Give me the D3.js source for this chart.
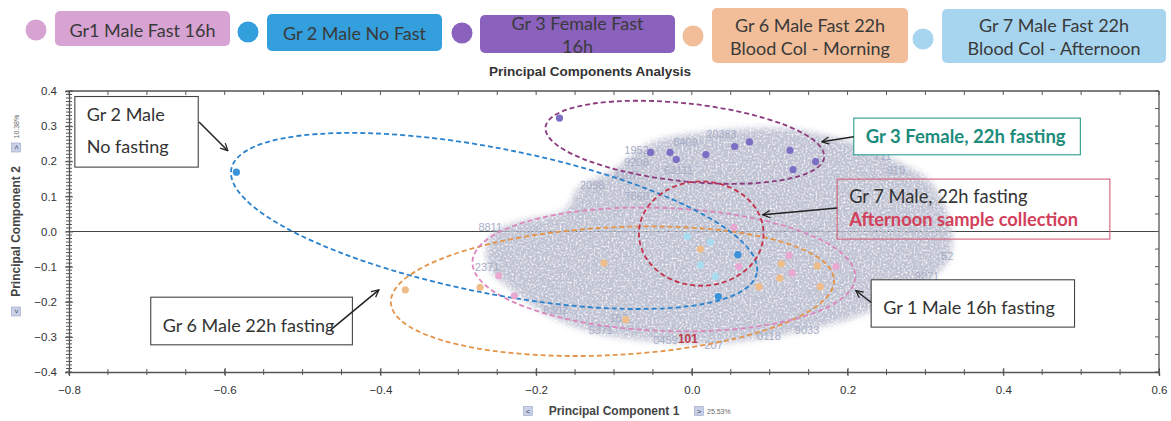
<!DOCTYPE html>
<html>
<head>
<meta charset="utf-8">
<script src="https://cdn.jsdelivr.net/npm/d3@7"></script>
<style>
body { margin: 0; background: #fff; }
svg { display: block; font-family: "Liberation Sans", Arial, sans-serif; }
.note { font-family: Lato, "Open Sans", sans-serif; }
</style>
</head>
<body>
<svg id="chart" width="1171" height="421"></svg>
<script>
// ---- data ----
const groupLabels = [
  ["Gr1 Male Fast 16h"],
  ["Gr 2 Male No Fast"],
  ["Gr 3 Female Fast", "16h"],
  ["Gr 6 Male Fast 22h", "Blood Col - Morning"],
  ["Gr 7 Male Fast 22h", "Blood Col - Afternoon"]
];

// PC1, PC2 of each sample
const gr1Points = [[-0.248, -0.126], [-0.228, -0.183], [0.060, -0.100], [0.125, -0.068], [0.129, -0.118], [0.185, -0.100], [0.054, 0.012]];
const gr2Points = [[-0.585, 0.169], [0.059, -0.066], [0.034, -0.185]];
const gr3Points = [[-0.170, 0.323], [-0.053, 0.225], [-0.028, 0.225], [-0.020, 0.205], [0.018, 0.219],
                   [0.055, 0.242], [0.074, 0.255], [0.126, 0.231], [0.159, 0.199], [0.130, 0.176]];
const gr6Points = [[-0.368, -0.166], [-0.272, -0.159], [-0.113, -0.090], [0.011, -0.050], [-0.085, -0.251],
                   [0.086, -0.157], [0.113, -0.133], [0.115, -0.092], [0.161, -0.098], [0.165, -0.157]];
const gr7Points = [[0.011, -0.095], [0.024, -0.030], [-0.006, -0.014], [0.030, -0.128]];

// confidence ellipses: centre x, centre y, semi-axes (PC1 units), tilt in degrees
const gr1Ellipse = [-0.036, -0.108, 0.246, 0.079, 2.3];
const gr2Ellipse = [-0.254, 0.030, 0.344, 0.093, 11.2];
const gr3Ellipse = [-0.009, 0.254, 0.180, 0.050, 6.2];
const gr6Ellipse = [-0.102, -0.170, 0.285, 0.082, -3.0];
const gr7Ellipse = [0.012, -0.006, 0.080, 0.067, 0];

// outline of the grey cloud of overlapping sample labels
const cloudOutline = [[-0.068, 0.233], [-0.042, 0.261], [0.009, 0.281], [0.060, 0.292], [0.125, 0.292], [0.176, 0.272],
  [0.227, 0.238], [0.266, 0.198], [0.304, 0.147], [0.324, 0.076], [0.334, -0.009], [0.330, -0.081], [0.304, -0.138],
  [0.266, -0.189], [0.227, -0.229], [0.176, -0.266], [0.112, -0.296], [0.035, -0.318], [-0.055, -0.312],
  [-0.132, -0.285], [-0.190, -0.231], [-0.235, -0.160], [-0.262, -0.098], [-0.258, -0.009], [-0.222, 0.028],
  [-0.163, 0.062], [-0.145, 0.127], [-0.104, 0.170]];

const cloudLabels = [["20383", 0.038, 0.278], ["9208", -0.071, 0.198], ["1952", -0.071, 0.232], ["8409", -0.008, 0.256],
  ["711", 0.245, 0.214], ["919", 0.262, 0.176], ["52", 0.328, -0.069], ["9271", 0.302, -0.128], ["290", 0.281, -0.157],
  ["9033", 0.148, -0.280], ["0118", 0.099, -0.297], ["0459", -0.034, -0.308], ["207", 0.028, -0.322],
  ["7860", -0.071, 0.100], ["2098", -0.128, 0.133], ["8811", -0.259, 0.014], ["2371", -0.263, -0.100],
  ["6302", -0.175, -0.223], ["5371", -0.117, -0.280], ["152", -0.094, -0.246], ["4107", -0.085, 0.161],
  ["63111", -0.017, 0.176]];
const redLabel = ["101", -0.005, -0.306];

const xTicks = [-0.8, -0.6, -0.4, -0.2, 0.0, 0.2, 0.4, 0.6];
const yTicks = [-0.4, -0.3, -0.2, -0.1, 0.0, 0.1, 0.2, 0.3, 0.4];

// callouts: box corners and arrow in PC units
const notes = [
  {lines: [["Gr 2 Male", "#333", 400], ["No fasting", "#333", 400]], box: [-0.7925, 0.3843, -0.634, 0.1833], stroke: "#444",
   from: [-0.633, 0.312], to: [-0.596, 0.230], dy: [24, 56], size: 18},
  {lines: [["Gr 6 Male 22h fasting", "#333", 400]], box: [-0.695, -0.187, -0.436, -0.3226], stroke: "#444",
   from: [-0.464, -0.280], to: [-0.402, -0.166], dy: [35], size: 18},
  {lines: [["Gr 3  Female, 22h fasting", "#1d8c7c", 700]], box: [0.208, 0.3228, 0.499, 0.2184], stroke: "#2a9d8f",
   from: [0.208, 0.2696], to: [0.167, 0.2555], dy: [25], size: 18.5},
  {lines: [["Gr 7 Male, 22h fasting", "#333", 400], ["Afternoon sample collection", "#d2405a", 700]],
   box: [0.1866, 0.1492, 0.5369, -0.0216], stroke: "#d0607a", fill: "none",
   from: [0.1866, 0.0666], to: [0.0912, 0.0475], dy: [24, 47], size: 18.3},
  {lines: [["Gr 1 Male 16h fasting", "#333", 400]], box: [0.2303, -0.1375, 0.4915, -0.2722], stroke: "#444",
   from: [0.2303, -0.2021], to: [0.2106, -0.168], dy: [34], size: 18}
];

// ---- layout ----
const svg = d3.select("#chart");
const x = d3.scaleLinear().domain([-0.8, 0.6]).range([69, 1159]);
const y = d3.scaleLinear().domain([-0.4, 0.4]).range([372, 91]);
const ux = v => x(v) - x(0);   // PC1 units -> px length

const defs = svg.append("defs");
// mottled fill so the cloud reads like a heap of overlapping labels
const tex = defs.append("filter").attr("id", "cloudTex").attr("x", "-10%").attr("y", "-10%").attr("width", "120%").attr("height", "120%");
tex.append("feGaussianBlur").attr("in", "SourceGraphic").attr("stdDeviation", 3).attr("result", "b");
tex.append("feTurbulence").attr("type", "fractalNoise").attr("baseFrequency", 0.5).attr("numOctaves", 2).attr("seed", 4).attr("result", "n");
tex.append("feColorMatrix").attr("in", "n").attr("type", "matrix")
  .attr("values", "0 0 0 0 0  0 0 0 0 0  0 0 0 0 0  0 0 0 -2.4 2.05").attr("result", "m");
tex.append("feComposite").attr("in", "b").attr("in2", "m").attr("operator", "in");

const m = defs.append("marker").attr("id", "arrow").attr("viewBox", "0 0 10 10")
  .attr("refX", 9).attr("refY", 5).attr("markerWidth", 9).attr("markerHeight", 9)
  .attr("markerUnits", "userSpaceOnUse").attr("orient", "auto");
m.append("path").attr("d", "M1,1 L9,5 L1,9").attr("fill", "none").attr("stroke", "#222").attr("stroke-width", 1.4);

// legend
const legendColors = ["#d7a3d2", "#339fdc", "#8a62bd", "#f1be99", "#a7d5ef"];
const legendLayout = [
  {c: [36, 30], b: [55, 11, 175, 35], ty: [30]},
  {c: [248, 32], b: [267, 14, 175, 37], ty: [33]},
  {c: [462, 33], b: [480, 15, 195, 38], ty: [23, 46]},
  {c: [693, 36], b: [712, 8, 196, 55], ty: [25, 48]},
  {c: [923, 39], b: [942, 9, 224, 54], ty: [25, 48]}
];
legendLayout.forEach((L, i) => {
  svg.append("circle").attr("cx", L.c[0]).attr("cy", L.c[1]).attr("r", 10.5).attr("fill", legendColors[i]);
  svg.append("rect").attr("x", L.b[0]).attr("y", L.b[1]).attr("width", L.b[2]).attr("height", L.b[3])
    .attr("rx", 5).attr("fill", legendColors[i]);
  groupLabels[i].forEach((t, j) => {
    svg.append("text").attr("class", "note").attr("x", L.b[0] + L.b[2] / 2).attr("y", L.ty[j])
      .attr("text-anchor", "middle").attr("dominant-baseline", "central")
      .attr("font-size", 18).attr("fill", "#3a3a3a").text(t);
  });
});

svg.append("text").attr("x", 590).attr("y", 76).attr("text-anchor", "middle")
  .attr("font-size", 13.5).attr("font-weight", 700).attr("fill", "#333").text("Principal Components Analysis");

// zero line
svg.append("line").attr("x1", x(-0.8)).attr("x2", x(0.6)).attr("y1", y(0)).attr("y2", y(0))
  .attr("stroke", "#444").attr("stroke-width", 1.2);

// grey cloud
svg.append("path").datum(cloudOutline)
  .attr("d", d3.line().x(d => x(d[0])).y(d => y(d[1])).curve(d3.curveCatmullRomClosed))
  .attr("fill", "#bec1d1").attr("filter", "url(#cloudTex)");
svg.selectAll(".clab").data(cloudLabels).enter().append("text").attr("class", "clab")
  .attr("x", d => x(d[1])).attr("y", d => y(d[2])).attr("text-anchor", "middle").attr("dominant-baseline", "central")
  .attr("font-size", 11).attr("fill", "#a7adc6").text(d => d[0]);
svg.append("text").attr("x", x(redLabel[1])).attr("y", y(redLabel[2])).attr("text-anchor", "middle")
  .attr("dominant-baseline", "central").attr("font-size", 12).attr("font-weight", 700).attr("fill", "#c23a4a").text(redLabel[0]);

// frame: top and right
svg.append("line").attr("x1", x(-0.8)).attr("x2", x(0.6)).attr("y1", y(0.4)).attr("y2", y(0.4)).attr("stroke", "#555").attr("stroke-width", 1.3);
svg.append("line").attr("x1", x(0.6)).attr("x2", x(0.6)).attr("y1", y(0.4)).attr("y2", y(-0.4)).attr("stroke", "#555").attr("stroke-width", 1.3);
const fine05x = d3.range(-16, 13).map(i => i * 0.05);
const fine05y = d3.range(-8, 9).map(i => i * 0.05);
svg.selectAll(".ttick").data(fine05x).enter().append("line")
  .attr("x1", d => x(d)).attr("x2", d => x(d)).attr("y1", y(0.4)).attr("y2", y(0.4) + 4).attr("stroke", "#555");
svg.selectAll(".rtick").data(fine05y).enter().append("line")
  .attr("x1", x(0.6) - 4).attr("x2", x(0.6)).attr("y1", d => y(d)).attr("y2", d => y(d)).attr("stroke", "#555");

// axes
const xAxis = svg.append("g").attr("transform", `translate(0,${y(-0.4)})`)
  .call(d3.axisBottom(x).tickValues(xTicks).tickFormat(d3.format(".1f")).tickSize(4));
xAxis.selectAll(".tick line").attr("y1", -4).attr("y2", 4);
xAxis.selectAll("text").attr("y", 14);
xAxis.append("g").selectAll("line").data(fine05x).enter().append("line")
  .attr("x1", d => x(d)).attr("x2", d => x(d)).attr("y1", -3).attr("y2", 3).attr("stroke", "#555");

const yAxis = svg.append("g").attr("transform", `translate(${x(-0.8)},0)`)
  .call(d3.axisLeft(y).tickValues(yTicks).tickFormat(d3.format(".1f")).tickSize(4));
yAxis.selectAll(".tick line").attr("x1", -4).attr("x2", 4);
yAxis.selectAll("text").attr("x", -12);
yAxis.append("g").selectAll("line").data(d3.range(-40, 41).map(i => i / 100)).enter().append("line")
  .attr("y1", d => y(d)).attr("y2", d => y(d)).attr("x1", -3).attr("x2", 3).attr("stroke", "#555");

[xAxis, yAxis].forEach(a => {
  a.select(".domain").attr("stroke", "#555").attr("stroke-width", 1.3);
  a.selectAll(".tick line").attr("stroke", "#555");
  a.selectAll("text").attr("font-family", "'Liberation Sans', Arial, sans-serif").attr("font-size", 11.5).attr("fill", "#333");
});

// axis titles with the little arrow icons
function icon(g, px, py, ch) {
  g.append("rect").attr("x", px - 4.5).attr("y", py - 4.5).attr("width", 9).attr("height", 9)
    .attr("fill", "#c9d0ea").attr("stroke", "#9aa3c4").attr("stroke-width", 0.6);
  g.append("text").attr("x", px).attr("y", py + 3).attr("text-anchor", "middle").attr("font-size", 8)
    .attr("fill", "#445").text(ch);
}
svg.append("text").attr("x", 614).attr("y", 415).attr("text-anchor", "middle").attr("font-size", 12)
  .attr("font-weight", 700).attr("fill", "#444").text("Principal Component 1");
const xi = svg.append("g");
icon(xi, 528, 411, "<");
icon(xi, 699, 411, ">");
xi.append("text").attr("x", 707).attr("y", 414).attr("font-size", 7).attr("fill", "#666").text("25.53%");

const yl = svg.append("g").attr("transform", `translate(20,${y(0)}) rotate(-90)`);
yl.append("text").attr("x", 0).attr("y", 0).attr("text-anchor", "middle").attr("font-size", 12)
  .attr("font-weight", 700).attr("fill", "#444").text("Principal Component 2");
icon(yl, -80, -4, "<");
icon(yl, 84, -4, ">");
yl.append("text").attr("x", 93).attr("y", -1).attr("font-size", 7).attr("fill", "#666").text("10.38%");

// ellipses
const ellipseList = [
  [gr6Ellipse, "#e49449"], [gr1Ellipse, "#dc86bd"], [gr2Ellipse, "#2a82cc"],
  [gr3Ellipse, "#8c3a7e"], [gr7Ellipse, "#c4314c"]
];
ellipseList.forEach(([e, col]) => {
  const cx = x(e[0]), cy = y(e[1]);
  svg.append("ellipse").attr("cx", cx).attr("cy", cy).attr("rx", ux(e[2])).attr("ry", ux(e[3]))
    .attr("transform", `rotate(${e[4]},${cx},${cy})`)
    .attr("fill", "none").attr("stroke", col).attr("stroke-width", 1.8).attr("stroke-dasharray", "5,3");
});

// sample points
const pointSets = [
  [gr6Points, "#efbd8a"], [gr1Points, "#e9a8d2"], [gr7Points, "#a8dcef"],
  [gr2Points, "#3a92d8"], [gr3Points, "#7a6fc4"]
];
pointSets.forEach(([pts, col], k) => {
  svg.selectAll(".p" + k).data(pts).enter().append("circle")
    .attr("cx", d => x(d[0])).attr("cy", d => y(d[1])).attr("r", 3.6).attr("fill", col);
});

// callout boxes
notes.forEach(n => {
  const x0 = x(n.box[0]), y0 = y(n.box[1]), x1 = x(n.box[2]), y1 = y(n.box[3]);
  svg.append("rect").attr("x", x0).attr("y", y0).attr("width", x1 - x0).attr("height", y1 - y0)
    .attr("fill", n.fill || "#fff").attr("stroke", n.stroke).attr("stroke-width", 1.1);
  n.lines.forEach((l, j) => {
    svg.append("text").attr("class", "note").attr("x", x0 + 12).attr("y", y0 + n.dy[j])
      .attr("font-size", n.size).attr("font-weight", l[2]).attr("fill", l[1]).text(l[0]);
  });
  svg.append("line").attr("x1", x(n.from[0])).attr("y1", y(n.from[1])).attr("x2", x(n.to[0])).attr("y2", y(n.to[1]))
    .attr("stroke", "#222").attr("stroke-width", 1.5).attr("marker-end", "url(#arrow)");
});
</script>
</body>
</html>
